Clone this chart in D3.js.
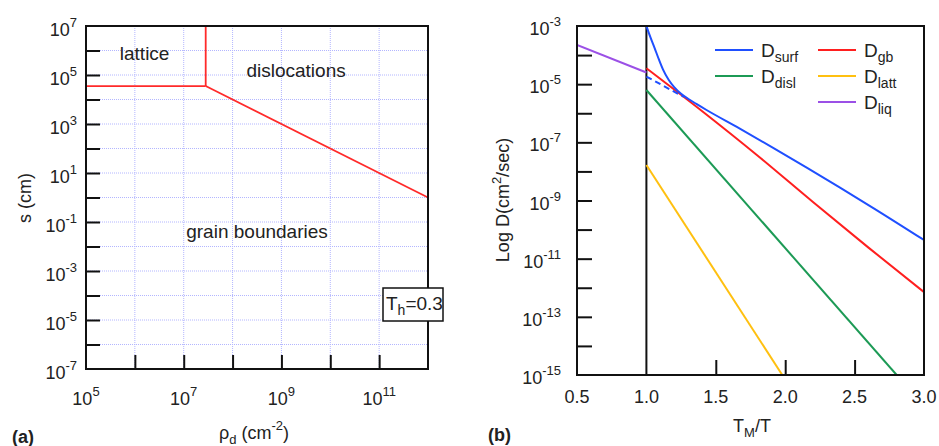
<!DOCTYPE html>
<html>
<head>
<meta charset="utf-8">
<script src="https://cdn.jsdelivr.net/npm/d3@7"></script>
<style>
  body { margin: 0; background: #fff; }
  svg text { font-family: "Liberation Sans", Arial, sans-serif; fill: #222; }
</style>
</head>
<body>
<svg width="939" height="446"></svg>
<script>
// ---- panel (a): mechanism map, exponents of 10
var rhoExpTicks   = [6, 7, 8, 9, 10, 11];
var rhoExpLabels  = [5, 7, 9, 11];
var sExpTicks     = [-6, -5, -4, -3, -2, -1, 0, 1, 2, 3, 4, 5, 6];
var sExpLabels    = [7, 5, 3, 1, -1, -3, -5, -7];
// boundaries as [log rho, log s]
var latticeVert   = [[7.45, 7], [7.45, 4.55]];
var latticeHoriz  = [[5, 4.55], [7.45, 4.55]];
var gbDislLine    = [[7.45, 4.55], [12, 0]];
var regionNames   = ["lattice", "dislocations", "grain boundaries"];
var regionAt      = [[6.2, 5.6], [9.3, 4.9], [8.5, -1.65]];

// ---- panel (b): log D vs T_M/T
var tmTickVals    = [1.5, 2.0, 2.5];
var tmLabels      = [0.5, 1.0, 1.5, 2.0, 2.5, 3.0];
var dExpTicks     = [-4, -5, -6, -7, -8, -9, -10, -11, -12, -13, -14];
var dExpLabels    = [-3, -5, -7, -9, -11, -13, -15];

var liqX   = [0.5, 1.0];
var liqY   = [-3.65, -4.6];
var surfX  = [1.0, 1.03, 1.06, 1.09, 1.12, 1.16, 1.2, 1.25, 1.3, 1.36, 1.43, 1.67, 1.91, 2.155, 2.395, 2.635, 3.0];
var surfY  = [-3.0, -3.4, -3.77, -4.15, -4.5, -4.85, -5.1, -5.33, -5.5, -5.68, -5.88, -6.52, -7.18, -7.87, -8.56, -9.26, -10.36];
var surfDashX = [1.0, 1.27];
var surfDashY = [-4.74, -5.44];
var gbX    = [1.0, 1.4, 1.8, 2.2, 2.6, 3.0];
var gbY    = [-4.45, -5.92, -7.45, -9.05, -10.62, -12.15];
var dislX  = [1.0, 2.803];
var dislY  = [-5.2, -15.0];
var lattX  = [1.0, 1.979];
var lattY  = [-7.78, -15.0];

var seriesNames = ["surf", "gb", "disl", "latt", "liq"];
var seriesColor = {surf: "#1f4fff", gb: "#ff1f1f", disl: "#1c9a55", latt: "#ffc010", liq: "#9b50e6"};

var svg = d3.select("svg");
svg.append("rect").attr("width", 939).attr("height", 446).attr("fill", "#fff");

function pow10(e) { return Math.pow(10, e); }

function powText(g, x, y, exp, anchor, size) {
  var t = g.append("text").attr("x", x).attr("y", y)
    .attr("text-anchor", anchor).attr("font-size", size || 18);
  t.append("tspan").text("10");
  t.append("tspan").attr("dy", -9).attr("font-size", 13).text(exp);
  return t;
}

// ================= panel (a)
var ax = d3.scaleLog().domain([1e5, 1e12]).range([86, 428]);
var ay = d3.scaleLog().domain([1e-7, 1e7]).range([369, 26]);
var gA = svg.append("g");

// dotted grid
gA.selectAll(".gx").data(d3.range(6, 12)).enter().append("line")
  .attr("x1", d => ax(pow10(d))).attr("x2", d => ax(pow10(d)))
  .attr("y1", ay(1e7)).attr("y2", ay(1e-7))
  .attr("stroke", "#b3b6ff").attr("stroke-dasharray", "1,1");
gA.selectAll(".gy").data(d3.range(-6, 7)).enter().append("line")
  .attr("x1", ax(1e5)).attr("x2", ax(1e12))
  .attr("y1", d => ay(pow10(d))).attr("y2", d => ay(pow10(d)))
  .attr("stroke", "#b3b6ff").attr("stroke-dasharray", "1,1");

// inward ticks
gA.append("g").attr("transform", "translate(86,0)")
  .call(d3.axisLeft(ay).tickValues(sExpTicks.map(pow10)).tickSize(-14).tickSizeOuter(0).tickFormat(""))
  .call(g => g.select(".domain").remove())
  .selectAll("line").attr("stroke", "#111").attr("stroke-width", 2);
gA.append("g").attr("transform", "translate(0,369)")
  .call(d3.axisBottom(ax).tickValues(rhoExpTicks.map(pow10)).tickSize(-14).tickSizeOuter(0).tickFormat(""))
  .call(g => g.select(".domain").remove())
  .selectAll("line").attr("stroke", "#111").attr("stroke-width", 2);

// boundaries
var lineA = d3.line().x(d => ax(pow10(d[0]))).y(d => ay(pow10(d[1])));
[latticeVert, latticeHoriz, gbDislLine].forEach(function (seg) {
  gA.append("path").attr("d", lineA(seg)).attr("fill", "none")
    .attr("stroke", "#ff2a2a").attr("stroke-width", 1.8);
});

gA.append("rect").attr("x", 86).attr("y", 26).attr("width", 342).attr("height", 343)
  .attr("fill", "none").attr("stroke", "#111").attr("stroke-width", 2);

regionNames.forEach(function (n, i) {
  gA.append("text").attr("x", ax(pow10(regionAt[i][0]))).attr("y", ay(pow10(regionAt[i][1])))
    .attr("text-anchor", "middle").attr("font-size", 19).text(n);
});

// T_h box
gA.append("rect").attr("x", 383).attr("y", 288).attr("width", 60).attr("height", 33)
  .attr("fill", "#fff").attr("stroke", "#111").attr("stroke-width", 1.5);
var th = gA.append("text").attr("x", 386).attr("y", 310).attr("font-size", 19);
th.append("tspan").text("T");
th.append("tspan").attr("dy", 5).attr("font-size", 14).text("h");
th.append("tspan").attr("dy", -5).text("=0.3");

sExpLabels.forEach(function (e) { powText(gA, 77, ay(pow10(e)) + 10, e, "end"); });
rhoExpLabels.forEach(function (e) { powText(gA, ax(pow10(e)), 405, e, "middle"); });

gA.append("text").attr("transform", "translate(31,198) rotate(-90)")
  .attr("text-anchor", "middle").attr("font-size", 18).text("s (cm)");
var xtA = gA.append("text").attr("x", 254).attr("y", 439).attr("text-anchor", "middle").attr("font-size", 18);
xtA.append("tspan").text("ρ");
xtA.append("tspan").attr("dy", 5).attr("font-size", 13).text("d");
xtA.append("tspan").attr("dy", -5).text(" (cm");
xtA.append("tspan").attr("dy", -9).attr("font-size", 13).text("-2");
xtA.append("tspan").attr("dy", 9).text(")");
gA.append("text").attr("x", 12).attr("y", 443).attr("font-size", 18).attr("font-weight", "bold").text("(a)");

// ================= panel (b)
var bx = d3.scaleLinear().domain([0.5, 3.0]).range([577, 924]);
var by = d3.scaleLog().domain([1e-15, 1e-3]).range([375, 26]);
var gB = svg.append("g");

svg.append("clipPath").attr("id", "clipB").append("rect")
  .attr("x", 577).attr("y", 26).attr("width", 347).attr("height", 349);

gB.append("g").attr("transform", "translate(577,0)")
  .call(d3.axisLeft(by).tickValues(dExpTicks.map(pow10)).tickSize(-15).tickSizeOuter(0).tickFormat(""))
  .call(g => g.select(".domain").remove())
  .selectAll("line").attr("stroke", "#111").attr("stroke-width", 2);
gB.append("g").attr("transform", "translate(0,375)")
  .call(d3.axisBottom(bx).tickValues(tmTickVals).tickSize(-15).tickSizeOuter(0).tickFormat(""))
  .call(g => g.select(".domain").remove())
  .selectAll("line").attr("stroke", "#111").attr("stroke-width", 2);

gB.append("line").attr("x1", bx(1.0)).attr("x2", bx(1.0)).attr("y1", 26).attr("y2", 375)
  .attr("stroke", "#111").attr("stroke-width", 2);

var lineB = d3.line().x(d => bx(d[0])).y(d => by(pow10(d[1]))).curve(d3.curveMonotoneX);
function zipXY(xs, ys) { return xs.map((x, i) => [x, ys[i]]); }
var curves = gB.append("g").attr("clip-path", "url(#clipB)");
function drawCurve(xs, ys, col, dash) {
  curves.append("path").attr("d", lineB(zipXY(xs, ys))).attr("fill", "none")
    .attr("stroke", col).attr("stroke-width", 2)
    .attr("stroke-dasharray", dash || null);
}
drawCurve(liqX, liqY, seriesColor.liq);
drawCurve(lattX, lattY, seriesColor.latt);
drawCurve(dislX, dislY, seriesColor.disl);
drawCurve(gbX, gbY, seriesColor.gb);
drawCurve(surfDashX, surfDashY, seriesColor.surf, "6,4");
drawCurve(surfX, surfY, seriesColor.surf);

gB.append("rect").attr("x", 577).attr("y", 26).attr("width", 347).attr("height", 349)
  .attr("fill", "none").attr("stroke", "#111").attr("stroke-width", 2);

// legend
var legendPos = {surf: [715, 50], disl: [715, 76], gb: [818, 50], latt: [818, 76], liq: [818, 102]};
seriesNames.forEach(function (n) {
  var p = legendPos[n];
  gB.append("line").attr("x1", p[0]).attr("x2", p[0] + 38).attr("y1", p[1]).attr("y2", p[1])
    .attr("stroke", seriesColor[n]).attr("stroke-width", 2);
  var t = gB.append("text").attr("x", p[0] + 46).attr("y", p[1] + 7).attr("font-size", 19);
  t.append("tspan").text("D");
  t.append("tspan").attr("dy", 5).attr("font-size", 14).text(n);
});

dExpLabels.forEach(function (e) { powText(gB, 561, by(pow10(e)) + 9, e, "end"); });
tmLabels.forEach(function (v) {
  gB.append("text").attr("x", bx(v)).attr("y", 403).attr("text-anchor", "middle")
    .attr("font-size", 18).text(v.toFixed(1));
});

var ytB = gB.append("text").attr("transform", "translate(509,200) rotate(-90)")
  .attr("text-anchor", "middle").attr("font-size", 18);
ytB.append("tspan").text("Log D(cm");
ytB.append("tspan").attr("dy", -8).attr("font-size", 13).text("2");
ytB.append("tspan").attr("dy", 8).text("/sec)");
var xtB = gB.append("text").attr("x", 752).attr("y", 432).attr("text-anchor", "middle").attr("font-size", 18);
xtB.append("tspan").text("T");
xtB.append("tspan").attr("dy", 5).attr("font-size", 13).text("M");
xtB.append("tspan").attr("dy", -5).text("/T");
gB.append("text").attr("x", 488).attr("y", 441).attr("font-size", 18).attr("font-weight", "bold").text("(b)");
</script>
</body>
</html>
